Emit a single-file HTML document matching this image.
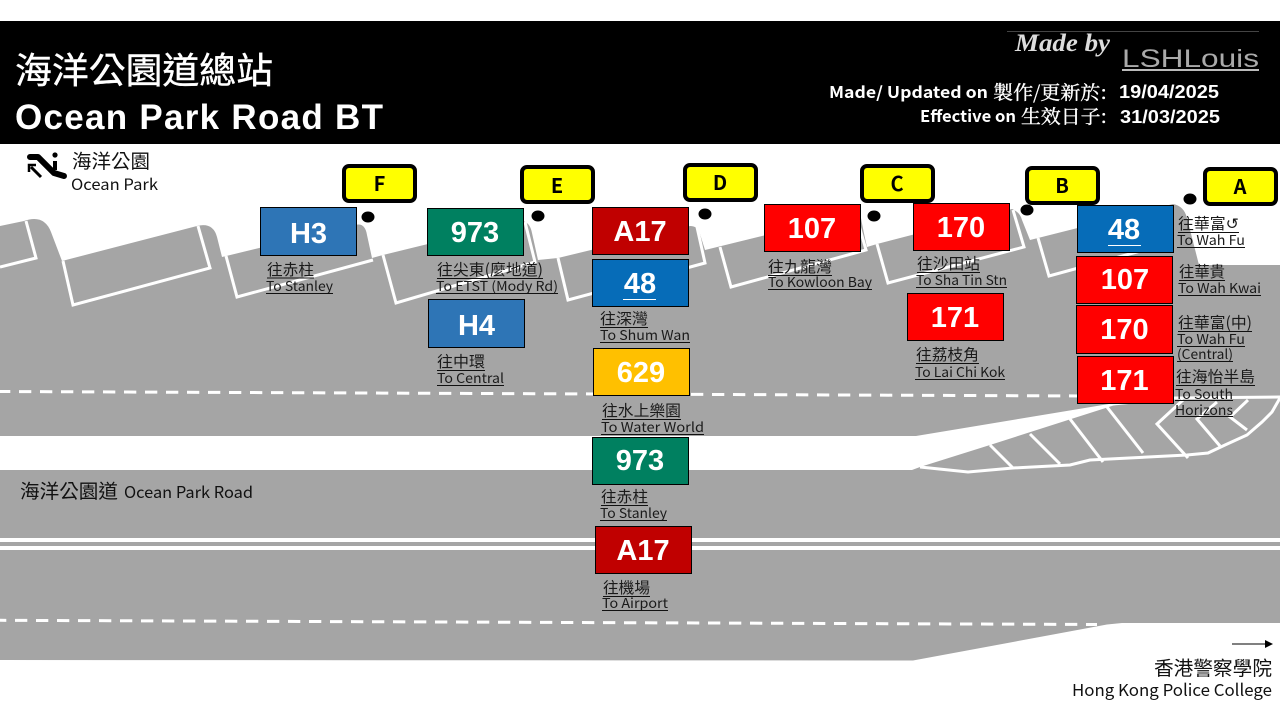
<!DOCTYPE html>
<html lang="zh-Hant"><head><meta charset="utf-8"><title>Ocean Park Road BT</title>
<style>
html,body{margin:0;padding:0;background:#fff;width:1280px;height:720px;overflow:hidden}
svg{display:block}
.n{font-family:"Liberation Sans",sans-serif;font-weight:700;font-size:29px;fill:#fff;text-anchor:middle}
.t{font-family:"Noto Sans CJK TC","Liberation Sans",sans-serif;font-weight:700;font-size:20px;fill:#000;text-anchor:middle}
.c{font-family:"Noto Sans CJK TC","Liberation Sans",sans-serif;font-size:15.6px;fill:#1a1a1a}
.e{font-family:"Noto Sans CJK TC","Liberation Sans",sans-serif;font-size:13.2px;fill:#1a1a1a}
.k{font-family:"Noto Sans CJK TC","Liberation Sans",sans-serif;fill:#111}
.w{font-family:"Noto Sans CJK TC","Liberation Sans",sans-serif;font-weight:700;font-size:16px;fill:#fff}
.s{font-family:"Noto Serif CJK SC","Noto Sans CJK TC",serif;font-size:19px;fill:#fff;stroke:#fff;stroke-width:.35px}
.d{font-family:"Liberation Sans",sans-serif;font-weight:700;font-size:18px;fill:#fff}
</style></head><body>
<svg width="1280" height="720" viewBox="0 0 1280 720" xmlns="http://www.w3.org/2000/svg">
<rect width="1280" height="720" fill="#fff"/>
<!-- road -->
<path fill="#a5a5a5" d="M0,226L24,221Q44,214 51,232L62,261L197,226Q213,222 217,237L222,257L355,225Q365,222 367,235L372,258L383,255L522,221Q530,222 532,233L538,260L558,258L690,226Q698,226 700,234L705,250L860,212Q862,225 867,247L877,244L1012,209Q1020,212 1022,220L1030,240L1038,238L1173,204Q1184,206 1187,218L1199,265L1280,265L1280,623L1122,623L1107,624.500L913,660.500L0,660Z"/>
<path fill="#fff" d="M0,436L916,436L1115,403L1115,405L990,445L920,467L912,470L0,470Z"/>
<rect x="0" y="538" width="1280" height="4" fill="#fff"/>
<rect x="0" y="546" width="1280" height="4" fill="#fff"/>
<g fill="none" stroke="#fff" stroke-width="3">
<path d="M26,221L36,258L0,267"/>
<path d="M63,261L73,305L210,268L198,226"/>
<path d="M226,256L237,297L373,260"/>
<path d="M383,255L396,303L535,262L525,222"/>
<path d="M558,258L568,300L705,263L697,227"/>
<path d="M720,247L731,287L866,250L858,222"/>
<path d="M877,244L888,283L1024,247L1013,210"/>
<path d="M1038,238L1049,276L1170,243"/>
<path d="M1113,404L1175,398L1280,397"/>
<path d="M920,467L968,472L1013,468L1070,465L1090,460L1187,455L1208,453L1225,445L1247,435L1262,422L1272,412L1280,398"/>
<path d="M990,445L1013,468M1030,434L1060,464M1070,419L1103,462M1107,407L1143,453"/>
<path d="M1183,400L1157,424L1188,458M1217,402L1197,419L1220,446M1248,400L1230,417L1247,430"/>
<path stroke-dasharray="12.3 8.7" stroke-dashoffset="2" d="M0,391.500L1085,396"/>
<path stroke-dasharray="12.3 8.7" stroke-dashoffset="6" d="M0,620.300L1097,624.500"/>
</g>
<!-- header -->
<rect x="0" y="21" width="1280" height="123" fill="#000"/>
<text x="15" y="83" fill="#fff" stroke="#fff" stroke-width=".4" font-family="'Noto Sans CJK TC',sans-serif" font-size="36" textLength="258" lengthAdjust="spacingAndGlyphs">海洋公園道總站</text>
<text x="15" y="129" fill="#fff" font-family="'Liberation Sans',sans-serif" font-weight="700" font-size="35" textLength="368" lengthAdjust="spacing">Ocean Park Road BT</text>
<rect x="1007" y="31" width="252" height="1" fill="#444"/>
<text x="1015" y="51" fill="#ddd" font-family="'Liberation Serif',serif" font-style="italic" font-weight="700" font-size="25" textLength="95" lengthAdjust="spacingAndGlyphs">Made by</text>
<text x="1122" y="67" fill="#aaa" font-family="'Liberation Sans',sans-serif" font-size="25" textLength="137" lengthAdjust="spacingAndGlyphs">LSHLouis</text>
<rect x="1122" y="69" width="137" height="2" fill="#bbb"/>
<text class="w" x="829" y="98" textLength="159" lengthAdjust="spacingAndGlyphs">Made/ Updated on</text>
<text class="s" x="993" y="99" textLength="114" lengthAdjust="spacingAndGlyphs">製作/更新於:</text>
<text class="d" x="1119" y="98" textLength="100" lengthAdjust="spacingAndGlyphs">19/04/2025</text>
<text class="w" x="920" y="122" textLength="96" lengthAdjust="spacingAndGlyphs">Effective on</text>
<text class="s" x="1021" y="123" textLength="86" lengthAdjust="spacingAndGlyphs">生效日子:</text>
<text class="d" x="1120" y="123" textLength="100" lengthAdjust="spacingAndGlyphs">31/03/2025</text>
<!-- escalator icon -->
<g stroke="#000" fill="none">
<path d="M30,157L38,157L54,173L64,176" stroke-width="6" stroke-linecap="round" stroke-linejoin="round"/>
<path d="M41,177L31,167" stroke-width="3"/>
<path d="M29,172L29,165L36,165" stroke-width="2.5"/>
<path d="M55,161L55,170" stroke-width="4"/>
</g>
<circle cx="55" cy="155" r="2.6" fill="#000"/>
<text class="k" x="72" y="168" font-size="19.5" textLength="78" lengthAdjust="spacingAndGlyphs">海洋公園</text>
<text class="k" x="71" y="190" font-size="15.5" textLength="87" lengthAdjust="spacingAndGlyphs">Ocean Park</text>
<text class="k" x="20" y="498" font-size="19.5" textLength="98" lengthAdjust="spacingAndGlyphs">海洋公園道</text>
<text class="k" x="124" y="498" font-size="16" textLength="129" lengthAdjust="spacingAndGlyphs">Ocean Park Road</text>
<text class="k" x="1154" y="675" font-size="19.5" textLength="118" lengthAdjust="spacingAndGlyphs">香港警察學院</text>
<text class="k" x="1072" y="696" font-size="16.5" textLength="200" lengthAdjust="spacingAndGlyphs">Hong Kong Police College</text>
<path d="M1232,644L1266,644" stroke="#000" stroke-width="1"/><path d="M1265,640L1273,644L1265,648Z" fill="#000"/>
<!-- stop tags -->
<g fill="#ff0" stroke="#000" stroke-width="4">
<rect x="344" y="166" width="71" height="35" rx="5"/>
<rect x="522" y="167" width="71" height="35" rx="5"/>
<rect x="685" y="165" width="71" height="35" rx="5"/>
<rect x="862" y="166" width="71" height="35" rx="5"/>
<rect x="1027" y="168" width="71" height="35" rx="5"/>
<rect x="1205" y="169" width="71" height="35" rx="5"/>
</g>
<text class="t" x="379.500" y="191">F</text>
<text class="t" x="557" y="193">E</text>
<text class="t" x="720" y="190">D</text>
<text class="t" x="897" y="191">C</text>
<text class="t" x="1062" y="193">B</text>
<text class="t" x="1240" y="194">A</text>
<g fill="#000">
<ellipse cx="368" cy="217" rx="6.500" ry="5.500"/>
<ellipse cx="538" cy="216" rx="6.500" ry="5.500"/>
<ellipse cx="705" cy="214" rx="6.500" ry="5.500"/>
<ellipse cx="874" cy="216" rx="6.500" ry="5.500"/>
<ellipse cx="1027" cy="210" rx="6.500" ry="5.500"/>
<ellipse cx="1190" cy="199" rx="6.500" ry="5.500"/>
</g>
<!-- route boxes -->
<g stroke="#000" stroke-width="1">
<rect x="260.500" y="207.500" width="96" height="48" fill="#2e75b6"/>
<rect x="427.500" y="208.500" width="96" height="47" fill="#008060"/>
<rect x="428.500" y="299.500" width="96" height="48" fill="#2e75b6"/>
<rect x="592.500" y="207.500" width="96" height="47" fill="#c00000"/>
<rect x="592.500" y="259.500" width="96" height="47" fill="#066cb8"/>
<rect x="593.500" y="348.500" width="96" height="47" fill="#ffc000"/>
<rect x="592.500" y="437.500" width="96" height="47" fill="#008060"/>
<rect x="595.500" y="526.500" width="96" height="47" fill="#c00000"/>
<rect x="764.500" y="204.500" width="96" height="47" fill="#f00"/>
<rect x="913.500" y="203.500" width="96" height="47" fill="#f00"/>
<rect x="907.500" y="293.500" width="96" height="47" fill="#f00"/>
<rect x="1077.500" y="205.500" width="96" height="47" fill="#066cb8"/>
<rect x="1076.500" y="256.500" width="96" height="47" fill="#f00"/>
<rect x="1076.500" y="305.500" width="96" height="48" fill="#f00"/>
<rect x="1077.500" y="356.500" width="96" height="47" fill="#f00"/>
</g>
<text class="n" x="308.500" y="243">H3</text>
<text class="n" x="475" y="242">973</text>
<text class="n" x="476.500" y="335">H4</text>
<text class="n" x="640" y="241">A17</text>
<text class="n" x="640" y="293">48</text>
<text class="n" x="641" y="382">629</text>
<text class="n" x="640" y="470">973</text>
<text class="n" x="643" y="560">A17</text>
<text class="n" x="812" y="238">107</text>
<text class="n" x="961" y="237">170</text>
<text class="n" x="955" y="327">171</text>
<text class="n" x="1124" y="239">48</text>
<text class="n" x="1125" y="289">107</text>
<text class="n" x="1124.500" y="339">170</text>
<text class="n" x="1124.500" y="390">171</text>
<rect x="623" y="299" width="33" height="1" fill="#fff"/>
<rect x="1108" y="245" width="33" height="1" fill="#fff"/>
<!-- labels -->
<text class="c" x="267" y="275" textLength="47" lengthAdjust="spacingAndGlyphs">往赤柱</text>
<text class="e" x="266" y="291" textLength="67" lengthAdjust="spacingAndGlyphs">To Stanley</text>
<text class="c" x="437" y="275" textLength="106" lengthAdjust="spacingAndGlyphs">往尖東(麼地道)</text>
<text class="e" x="436" y="291" textLength="122" lengthAdjust="spacingAndGlyphs">To ETST (Mody Rd)</text>
<text class="c" x="437" y="367" textLength="48" lengthAdjust="spacingAndGlyphs">往中環</text>
<text class="e" x="437" y="383" textLength="67" lengthAdjust="spacingAndGlyphs">To Central</text>
<text class="c" x="600" y="324" textLength="48" lengthAdjust="spacingAndGlyphs">往深灣</text>
<text class="e" x="600" y="340" textLength="90" lengthAdjust="spacingAndGlyphs">To Shum Wan</text>
<text class="c" x="602" y="416" textLength="79" lengthAdjust="spacingAndGlyphs">往水上樂園</text>
<text class="e" x="601" y="432" textLength="103" lengthAdjust="spacingAndGlyphs">To Water World</text>
<text class="c" x="601" y="502" textLength="47" lengthAdjust="spacingAndGlyphs">往赤柱</text>
<text class="e" x="600" y="518" textLength="67" lengthAdjust="spacingAndGlyphs">To Stanley</text>
<text class="c" x="603" y="593" textLength="47" lengthAdjust="spacingAndGlyphs">往機場</text>
<text class="e" x="602" y="608" textLength="66" lengthAdjust="spacingAndGlyphs">To Airport</text>
<text class="c" x="768" y="272" textLength="64" lengthAdjust="spacingAndGlyphs">往九龍灣</text>
<text class="e" x="768" y="287" textLength="104" lengthAdjust="spacingAndGlyphs">To Kowloon Bay</text>
<text class="c" x="917" y="269" textLength="63" lengthAdjust="spacingAndGlyphs">往沙田站</text>
<text class="e" x="916" y="285" textLength="91" lengthAdjust="spacingAndGlyphs">To Sha Tin Stn</text>
<text class="c" x="916" y="360" textLength="63" lengthAdjust="spacingAndGlyphs">往荔枝角</text>
<text class="e" x="915" y="377" textLength="90" lengthAdjust="spacingAndGlyphs">To Lai Chi Kok</text>
<text class="c" x="1178" y="229" textLength="61" lengthAdjust="spacingAndGlyphs" style="font-family:'Noto Sans CJK TC','DejaVu Sans',sans-serif">往華富↺</text>
<text class="e" x="1177" y="245" textLength="68" lengthAdjust="spacingAndGlyphs">To Wah Fu</text>
<text class="c" x="1179" y="277" textLength="46" lengthAdjust="spacingAndGlyphs">往華貴</text>
<text class="e" x="1178" y="293" textLength="83" lengthAdjust="spacingAndGlyphs">To Wah Kwai</text>
<text class="c" x="1178" y="328" textLength="74" lengthAdjust="spacingAndGlyphs">往華富(中)</text>
<text class="e" x="1177" y="344" textLength="68" lengthAdjust="spacingAndGlyphs">To Wah Fu</text>
<text class="e" x="1177" y="359" textLength="56" lengthAdjust="spacingAndGlyphs">(Central)</text>
<text class="c" x="1176" y="382" textLength="79" lengthAdjust="spacingAndGlyphs">往海怡半島</text>
<text class="e" x="1175" y="399" textLength="58" lengthAdjust="spacingAndGlyphs">To South</text>
<text class="e" x="1175" y="415" textLength="58" lengthAdjust="spacingAndGlyphs">Horizons</text>
<g fill="#111">
<rect x="267" y="277.500" width="47" height="1"/><rect x="266" y="293" width="67" height="1"/>
<rect x="437" y="278" width="106" height="1"/><rect x="436" y="293" width="122" height="1"/>
<rect x="437" y="370" width="48" height="1"/><rect x="437" y="385" width="67" height="1"/>
<rect x="600" y="327" width="48" height="1"/><rect x="600" y="342" width="90" height="1"/>
<rect x="602" y="419" width="79" height="1"/><rect x="601" y="434" width="103" height="1"/>
<rect x="601" y="505" width="47" height="1"/><rect x="600" y="520" width="67" height="1"/>
<rect x="603" y="596" width="47" height="1"/><rect x="602" y="610" width="66" height="1"/>
<rect x="768" y="275" width="64" height="1"/><rect x="768" y="289" width="104" height="1"/>
<rect x="917" y="272" width="63" height="1"/><rect x="916" y="287" width="91" height="1"/>
<rect x="916" y="363" width="63" height="1"/><rect x="915" y="379" width="90" height="1"/>
<rect x="1178" y="232" width="61" height="1"/><rect x="1177" y="247" width="68" height="1"/>
<rect x="1179" y="280" width="46" height="1"/><rect x="1178" y="295" width="83" height="1"/>
<rect x="1178" y="331" width="74" height="1"/><rect x="1177" y="346" width="68" height="1"/><rect x="1177" y="361" width="56" height="1"/>
<rect x="1176" y="385" width="79" height="1"/><rect x="1175" y="400" width="58" height="1"/><rect x="1175" y="416" width="58" height="1"/>
</g>
</svg>
</body></html>
